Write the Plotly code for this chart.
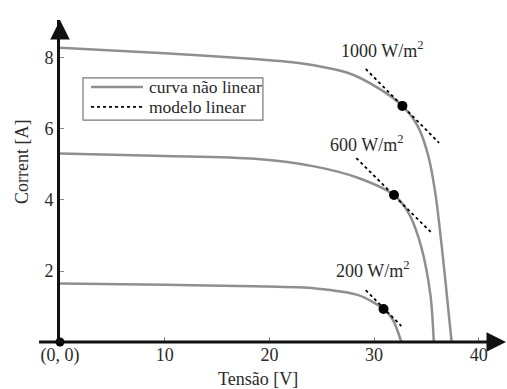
import plotly.graph_objects as go

# ---- data ----
v_1000 = [0, 10, 18.6, 22.8, 27.6, 30.4, 32.7, 34.2, 35.2, 35.9, 36.8, 37.4]
i_1000 = [8.29, 8.13, 7.97, 7.86, 7.57, 7.15, 6.65, 6.06, 5.21, 4.08, 1.75, 0]
v_600 = [0, 10, 18.6, 24.4, 28.5, 31.9, 33.3, 34.5, 35.4, 35.7]
i_600 = [5.31, 5.24, 5.16, 4.94, 4.62, 4.14, 3.63, 2.68, 1.27, 0]
v_200 = [0, 10, 18.6, 24.4, 28.5, 30.9, 31.8, 32.6]
i_200 = [1.65, 1.61, 1.57, 1.51, 1.32, 0.93, 0.62, 0]

mpp_v = [32.7, 31.9, 30.9]
mpp_i = [6.65, 4.14, 0.93]

tan_1000_v = [29.2, 36.2]
tan_1000_i = [7.69, 5.61]
tan_600_v = [28.3, 35.4]
tan_600_i = [5.18, 3.10]
tan_200_v = [29.2, 32.6]
tan_200_i = [1.46, 0.45]

labels = ["1000 W/m<sup>2</sup>", "600 W/m<sup>2</sup>", "200 W/m<sup>2</sup>"]
label_v = [30.75, 29.3, 29.8]
label_i = [8.23, 5.6, 2.03]

x_tickvals = [0, 10, 20, 30, 40]
x_ticktext = ["(0, 0)", "10", "20", "30", "40"]
y_tickvals = [2, 4, 6, 8]

FONT = "Liberation Serif, Times New Roman, serif"
GRAY = "#8f8f8f"
TXT = "#2a2a2a"

fig = go.Figure()
for v, i in [(v_1000, i_1000), (v_600, i_600), (v_200, i_200)]:
    fig.add_trace(go.Scatter(x=v, y=i, mode="lines", line=dict(color=GRAY, width=2.5, shape="spline", smoothing=0.8),
                             showlegend=False, cliponaxis=False))
for v, i in [(tan_1000_v, tan_1000_i), (tan_600_v, tan_600_i), (tan_200_v, tan_200_i)]:
    fig.add_trace(go.Scatter(x=v, y=i, mode="lines", line=dict(color="black", width=1.8, dash="dot"),
                             showlegend=False))
fig.add_trace(go.Scatter(x=mpp_v, y=mpp_i, mode="markers", marker=dict(color="black", size=10),
                         showlegend=False))
fig.add_trace(go.Scatter(x=[0], y=[0], mode="markers", marker=dict(color="black", size=9),
                         showlegend=False, cliponaxis=False))

for t, x, y in zip(labels, label_v, label_i):
    fig.add_annotation(x=x, y=y, text=t, showarrow=False, yanchor="middle",
                       font=dict(family=FONT, size=18, color=TXT))

# axes titles
fig.add_annotation(xref="paper", yref="paper", x=0.445, y=-0.115, text="Tensão [V]", showarrow=False,
                   xanchor="center", yanchor="middle", font=dict(family=FONT, size=18, color=TXT))
fig.add_annotation(xref="paper", yref="paper", x=-0.0854, y=0.559, text="Corrent [A]", showarrow=False,
                   xanchor="center", yanchor="middle", textangle=-90, font=dict(family=FONT, size=18, color=TXT))

# x axis line (extends left past the y axis) and arrows
fig.add_shape(type="line", xref="paper", yref="paper", x0=-0.047, x1=0.99, y0=0, y1=0,
              line=dict(color="#111", width=3))
fig.add_annotation(xref="paper", yref="paper", x=1.004, y=0, ax=-16, ay=0, text="", showarrow=True,
                   arrowhead=2, arrowsize=1.3, arrowwidth=3, arrowcolor="#111")
fig.add_annotation(xref="paper", yref="paper", x=0, y=1.0, ax=0, ay=16, text="", showarrow=True,
                   arrowhead=2, arrowsize=1.3, arrowwidth=3, arrowcolor="#111")

# manual legend
fig.add_shape(type="rect", xref="paper", yref="paper", x0=0.0517, x1=0.456, y0=0.689, y1=0.820,
              line=dict(color="#777", width=1.2), fillcolor="white")
fig.add_shape(type="line", xref="paper", yref="paper", x0=0.0697, x1=0.1865, y0=0.792, y1=0.792,
              line=dict(color=GRAY, width=2.5))
fig.add_shape(type="line", xref="paper", yref="paper", x0=0.0697, x1=0.1865, y0=0.730, y1=0.730,
              line=dict(color="black", width=1.8, dash="dot"))
fig.add_annotation(xref="paper", yref="paper", x=0.195, y=0.792, xanchor="left", yanchor="middle",
                   text="curva não linear", showarrow=False, font=dict(family=FONT, size=17.5, color=TXT))
fig.add_annotation(xref="paper", yref="paper", x=0.195, y=0.730, xanchor="left", yanchor="middle",
                   text="modelo linear", showarrow=False, font=dict(family=FONT, size=17.5, color=TXT))

fig.update_layout(
    width=507, height=389,
    margin=dict(l=60, r=2, t=20, b=47),
    plot_bgcolor="white", paper_bgcolor="white",
    showlegend=False,
    font=dict(family=FONT, size=18, color=TXT),
    xaxis=dict(range=[0, 42.5], tickvals=x_tickvals, ticktext=x_ticktext, ticks="inside", ticklen=5,
               tickcolor="#888", tickwidth=1, showgrid=False, zeroline=False, showline=False,
               automargin=False, tickfont=dict(family=FONT, size=18, color=TXT)),
    yaxis=dict(range=[0, 9.07], tickvals=y_tickvals, ticks="inside", ticklen=4, tickcolor="#888",
               tickwidth=1, showgrid=False, zeroline=False, showline=True, linecolor="#111", linewidth=3,
               automargin=False, tickfont=dict(family=FONT, size=18, color=TXT)),
)

fig.write_html("out.html", config={"displayModeBar": False},
               post_script="document.body.style.margin='0';document.body.style.overflow='hidden';")
